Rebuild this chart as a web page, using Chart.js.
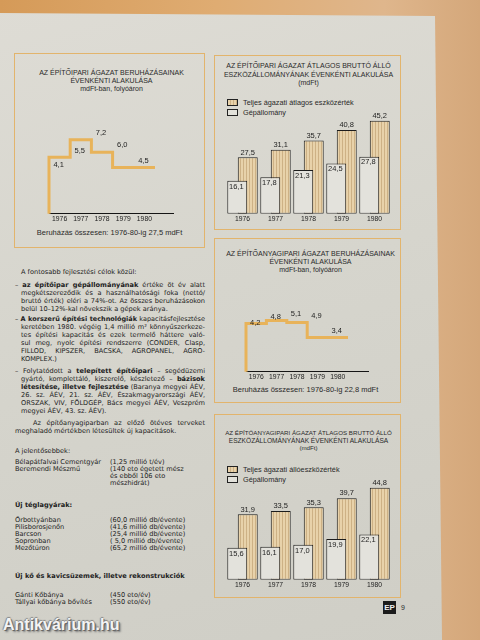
<!DOCTYPE html>
<html><head><meta charset="utf-8">
<script src="https://cdn.jsdelivr.net/npm/chart.js@4.4.1/dist/chart.umd.min.js"></script>
<style>
html,body{margin:0;padding:0;width:480px;height:640px;overflow:hidden;}
body{position:relative;background:linear-gradient(90deg,#d59a58 0%,#dfac72 45%,#dfb68c 80%,#d4a77a 100%);font-family:"Liberation Sans",Arial,sans-serif;color:#2a2a2a;}
#page{position:absolute;left:0;top:0;width:480px;height:640px;background:linear-gradient(165deg,#dedcd5 0%,#d6d5cd 45%,#cfcec6 100%);clip-path:polygon(0 13px,435px 16px,442px 640px,0 640px);}
.box{position:absolute;border:1.5px solid #e2b46c;box-sizing:border-box;}
.t{position:absolute;font-size:7px;text-align:center;white-space:nowrap;line-height:8px;color:#2a2a2a;}
canvas{position:absolute;}
.leg{position:absolute;font-size:7.3px;line-height:8px;white-space:nowrap;}
.leg i{display:inline-block;width:9px;height:5px;border:1px solid #222;vertical-align:-1px;margin-right:5px;}
.leg i.tan{background:repeating-linear-gradient(90deg,#e8d2aa 0 2px,#cdb185 2px 3px);}
.leg i.lt{background:#e2e1da;}
#txt{position:absolute;left:15px;top:268px;width:190px;font-family:"DejaVu Sans",sans-serif;font-size:6.6px;line-height:8px;color:#222;}
#txt div{white-space:nowrap;}
#txt .j{text-align:justify;text-align-last:justify;white-space:normal;height:8px;overflow:visible;}
#txt .c{margin-left:6px;}
#txt b{font-weight:700;}
.lst{position:absolute;left:15px;font-family:"DejaVu Sans",sans-serif;font-size:6.6px;line-height:7px;white-space:nowrap;color:#222;}
.lst span{position:absolute;left:95px;}
#wm{position:absolute;left:3px;top:616px;font:bold 16px "Liberation Sans",Arial,sans-serif;color:#f4f4f4;text-shadow:1px 1px 0 #666,-1px 0 1px #888,0 -1px 1px #888,2px 2px 2px #777;}
#ep{position:absolute;left:383px;top:601px;width:13px;height:13px;background:#1c1c1c;color:#eee;font:bold 8px "Liberation Sans",Arial,sans-serif;text-align:center;line-height:13px;}
#pn{position:absolute;left:401px;top:604px;font-size:7px;}
</style></head>
<body>
<div id="page"></div>

<div class="box" style="left:14px;top:53px;width:191px;height:195px;"></div>
<div class="box" style="left:214px;top:55px;width:187px;height:175px;"></div>
<div class="box" style="left:214px;top:238px;width:187px;height:165px;"></div>
<div class="box" style="left:214px;top:414px;width:187px;height:184px;"></div>

<div class="t" style="left:14px;top:69px;width:195px;">AZ ÉPÍTŐIPARI ÁGAZAT BERUHÁZÁSAINAK<br>ÉVENKÉNTI ALAKULÁSA<br>mdFt-ban, folyóáron</div>
<div class="t" style="left:14px;top:229px;width:191px;font-size:7.5px;">Beruházás összesen: 1976-80-ig 27,5 mdFt</div>

<div class="t" style="left:214px;top:62px;width:189px;line-height:8.5px;">AZ ÉPÍTŐIPARI ÁGAZAT ÁTLAGOS BRUTTÓ ÁLLÓ<br>ESZKÖZÁLLOMÁNYÁNAK ÉVENKÉNTI ALAKULÁSA<br>(mdFt)</div>
<div class="leg" style="left:227px;top:99px;"><i class="tan"></i>Teljes ágazati átlagos eszközérték</div>
<div class="leg" style="left:227px;top:109px;"><i class="lt"></i>Gépállomány</div>

<div class="t" style="left:214px;top:250px;width:193px;">AZ ÉPÍTŐANYAGIPARI ÁGAZAT BERUHÁZÁSAINAK<br>ÉVENKÉNTI ALAKULÁSA<br>mdFt-ban, folyóáron</div>
<div class="t" style="left:214px;top:386px;width:183px;font-size:7.5px;">Beruházás összesen: 1976-80-ig 22,8 mdFt</div>

<div class="t" style="left:214px;top:429px;width:189px;line-height:7.5px;font-size:6.2px;">AZ ÉPÍTŐANYAGIPARI ÁGAZAT ÁTLAGOS BRUTTÓ ÁLLÓ<br><span style="font-size:6.6px;">ESZKÖZÁLLOMÁNYÁNAK ÉVENKÉNTI ALAKULÁSA</span><br>(mdFt)</div>
<div class="leg" style="left:227px;top:466px;"><i class="tan"></i>Teljes ágazati állóeszközérték</div>
<div class="leg" style="left:227px;top:476px;"><i class="lt"></i>Gépállomány</div>

<canvas id="c1" width="191" height="126" style="left:14px;top:100px;"></canvas>
<canvas id="c2" width="187" height="122" style="left:214px;top:104px;"></canvas>
<canvas id="c3" width="187" height="126" style="left:214px;top:262px;"></canvas>
<canvas id="c4" width="187" height="122" style="left:214px;top:470px;"></canvas>

<div id="txt">
<div class="c" style="margin-bottom:5px;">A fontosabb fejlesztési célok közül:</div>
<div class="j">– <b>az építőipar gépállományának</b> értéke öt év alatt</div>
<div class="j c">megkétszereződik és a használhatósági foka (nettó/</div>
<div class="j c">bruttó érték) eléri a 74%-ot. Az összes beruházásokon</div>
<div class="c" style="margin-bottom:2px;">belül 10–12%-kal növekszik a gépek aránya.</div>
<div class="j">– <b>A korszerű építési technológiák</b> kapacitásfejlesztése</div>
<div class="j c">keretében 1980. végéig 1,4 millió m² könnyűszerkeze-</div>
<div class="j c">tes építési kapacitás és ezek termelő háttere való-</div>
<div class="j c">sul meg, nyolc építési rendszerre (CONDER, Clasp,</div>
<div class="j c">FILLOD, KIPSZER, BACSKA, AGROPANEL, AGRO-</div>
<div class="c" style="margin-bottom:4px;">KOMPLEX.)</div>
<div class="j">– Folytatódott a <b>telepített építőipari</b> – segédüzemi</div>
<div class="j c">gyártó, komplettáló, kiszerelő, készletező – <b>bázisok</b></div>
<div class="j c"><b>létesítése, illetve fejlesztése</b> (Baranya megyei ÁÉV,</div>
<div class="j c">26. sz. ÁÉV, 21. sz. ÁÉV, Északmagyarországi ÁÉV,</div>
<div class="j c">ORSZAK, VIV, FÖLDGÉP, Bács megyei ÁÉV, Veszprém</div>
<div class="c" style="margin-bottom:4px;">megyei ÁÉV, 43. sz. ÁÉV).</div>
<div class="j" style="margin-left:18px;">Az építőanyagiparban az előző ötéves terveket</div>
<div>meghaladó mértékben létesültek új kapacitások.</div>
</div>

<div class="lst" style="top:448px;">A jelentősebbek:</div>
<div class="lst" style="top:459px;">Bélapátfalvai Cementgyár<span>(1,25 millió t/év)</span></div>
<div class="lst" style="top:466px;">Beremendi Mészmű<span>(140 eto égetett mész</span></div>
<div class="lst" style="top:473px;"><span>és ebből 106 eto</span></div>
<div class="lst" style="top:480px;"><span>mészhidrát)</span></div>
<div class="lst" style="top:502px;font-weight:700;">Új téglagyárak:</div>
<div class="lst" style="top:517px;">Őrbottyánban<span>(60,0 millió db/évente)</span></div>
<div class="lst" style="top:524px;">Pilisborosjenőn<span>(41,6 millió db/évente)</span></div>
<div class="lst" style="top:531px;">Barcson<span>(25,4 millió db/évente)</span></div>
<div class="lst" style="top:538px;">Sopronban<span>( 5,0 millió db/évente)</span></div>
<div class="lst" style="top:545px;">Mezőtúron<span>(65,2 millió db/évente)</span></div>
<div class="lst" style="top:573px;font-weight:700;">Új kő és kavicsüzemek, illetve rekonstrukciók</div>
<div class="lst" style="top:592px;">Gánti Kőbánya<span>(450 eto/év)</span></div>
<div class="lst" style="top:599px;">Tállyai kőbánya bővítés<span>(550 eto/év)</span></div>

<div id="ep">EP</div>
<div id="pn">9</div>
<div id="wm">Antikvárium.hu</div>

<script>
const years = [1976, 1977, 1978, 1979, 1980];
const yearLabels = ['1976', '1977', '1978', '1979', '1980'];
const epitoiparBeruhazas = [4.1, 5.5, 7.2, 6.0, 4.5];
const anyagiparBeruhazas = [4.2, 4.8, 5.1, 4.9, 3.4];
const epitoiparTeljes = [27.5, 31.1, 35.7, 40.8, 45.2];
const epitoiparGep = [16.1, 17.8, 21.3, 24.5, 27.8];
const anyagiparTeljes = [31.9, 33.5, 35.3, 39.7, 44.8];
const anyagiparGep = [15.6, 16.1, 17.0, 19.9, 22.1];

// keep justified lines on a single line
document.querySelectorAll('#txt .j').forEach(d => {
  d.style.height = 'auto';
  let s = 6.6;
  while (d.offsetHeight > 9 && s > 4.5) { s -= 0.1; d.style.fontSize = s + 'px'; }
  d.style.height = '8px';
});

const FONT = '"Liberation Sans", Arial, sans-serif';
const ORANGE = '#e8b35a';
Chart.defaults.font.family = FONT;
Chart.defaults.color = '#222';
const fmt = v => v.toFixed(1).replace('.', ',');

function stepChart(id, vals, padding, xmax) {
  const last = years.length - 1;
  const pts = [{x: years[0] - 0.5, y: 0}]
    .concat(years.map((yr, i) => ({x: yr - 0.5, y: vals[i]})))
    .concat([{x: years[last] + 0.5, y: vals[last]}]);
  new Chart(document.getElementById(id), {
    type: 'line',
    data: {datasets: [{data: pts, stepped: 'after', borderColor: ORANGE, borderWidth: 3,
      pointRadius: 0, fill: false, clip: false, borderJoinStyle: 'miter', borderCapStyle: 'butt'}]},
    options: {
      responsive: false, animation: false, devicePixelRatio: 1,
      layout: {padding},
      plugins: {legend: {display: false}, tooltip: {enabled: false}},
      scales: {
        x: {type: 'linear', min: years[0] - 0.5, max: xmax,
          grid: {display: false, drawTicks: false},
          border: {display: true, color: '#151515', width: 1},
          afterBuildTicks: ax => { ax.ticks = years.map(v => ({value: v})); },
          ticks: {font: {size: 6.8}, color: '#222', padding: 1, autoSkip: false, maxRotation: 0,
            callback: v => String(v)}},
        y: {display: false, min: 0, max: 10}
      }
    },
    plugins: [{
      id: 'stepLabels',
      afterDatasetsDraw(chart) {
        const {ctx, scales: {x, y}} = chart;
        ctx.save();
        ctx.font = '7.5px ' + FONT;
        ctx.fillStyle = '#1e1e1e';
        ctx.textAlign = 'center';
        ctx.textBaseline = 'bottom';
        years.forEach((yr, i) => ctx.fillText(fmt(vals[i]), x.getPixelForValue(yr) - 1, y.getPixelForValue(vals[i]) - 3));
        ctx.restore();
      }
    }]
  });
}

function stripePattern() {
  const c = document.createElement('canvas');
  c.width = 3; c.height = 4;
  const g = c.getContext('2d');
  g.fillStyle = '#e8d2aa'; g.fillRect(0, 0, 3, 4);
  g.fillStyle = '#cdb185'; g.fillRect(2, 0, 1, 4);
  return g.createPattern(c, 'repeat');
}

function barChart(id, teljes, gep, teljesLabel, padding) {
  new Chart(document.getElementById(id), {
    type: 'bar',
    data: {
      labels: yearLabels,
      datasets: [
        {label: 'Gépállomány', data: gep, backgroundColor: '#e3e2dc', borderColor: '#1c1c1c',
          borderWidth: 1, borderSkipped: false, categoryPercentage: 0.636, barPercentage: 1.9},
        {label: teljesLabel, data: teljes, backgroundColor: stripePattern(), borderColor: '#1c1c1c',
          borderWidth: 1, borderSkipped: false, categoryPercentage: 0.636, barPercentage: 1.9}
      ]
    },
    options: {
      responsive: false, animation: false, devicePixelRatio: 1,
      layout: {padding},
      plugins: {legend: {display: false}, tooltip: {enabled: false}},
      scales: {
        x: {grid: {display: false, drawTicks: false}, border: {display: false},
          ticks: {font: {size: 6.8}, color: '#222', padding: 1, maxRotation: 0}},
        y: {display: false, min: 0, max: 50}
      }
    },
    plugins: [{
      id: 'barLabels',
      afterDatasetsDraw(chart) {
        const {ctx} = chart;
        ctx.save();
        ctx.font = '7.5px ' + FONT;
        ctx.fillStyle = '#1e1e1e';
        ctx.textAlign = 'center';
        chart.getDatasetMeta(1).data.forEach((bar, i) => {
          ctx.textBaseline = 'bottom';
          ctx.fillText(fmt(teljes[i]), bar.x, bar.y - 1);
        });
        chart.getDatasetMeta(0).data.forEach((bar, i) => {
          ctx.textBaseline = 'top';
          ctx.fillText(fmt(gep[i]), bar.x - 1, bar.y + 2);
        });
        ctx.restore();
      }
    }]
  });
}

stepChart('c1', epitoiparBeruhazas, {left: 35, right: 32, top: 11, bottom: 2}, 1981.35);
stepChart('c3', anyagiparBeruhazas, {left: 32, right: 33, top: 9, bottom: 6}, 1981.48);
barChart('c2', epitoiparTeljes, epitoiparGep, 'Teljes ágazati átlagos eszközérték', {left: 12, right: 10, top: 7, bottom: 2});
barChart('c4', anyagiparTeljes, anyagiparGep, 'Teljes ágazati állóeszközérték', {left: 12, right: 10, top: 7, bottom: 2});
</script>
</body></html>
